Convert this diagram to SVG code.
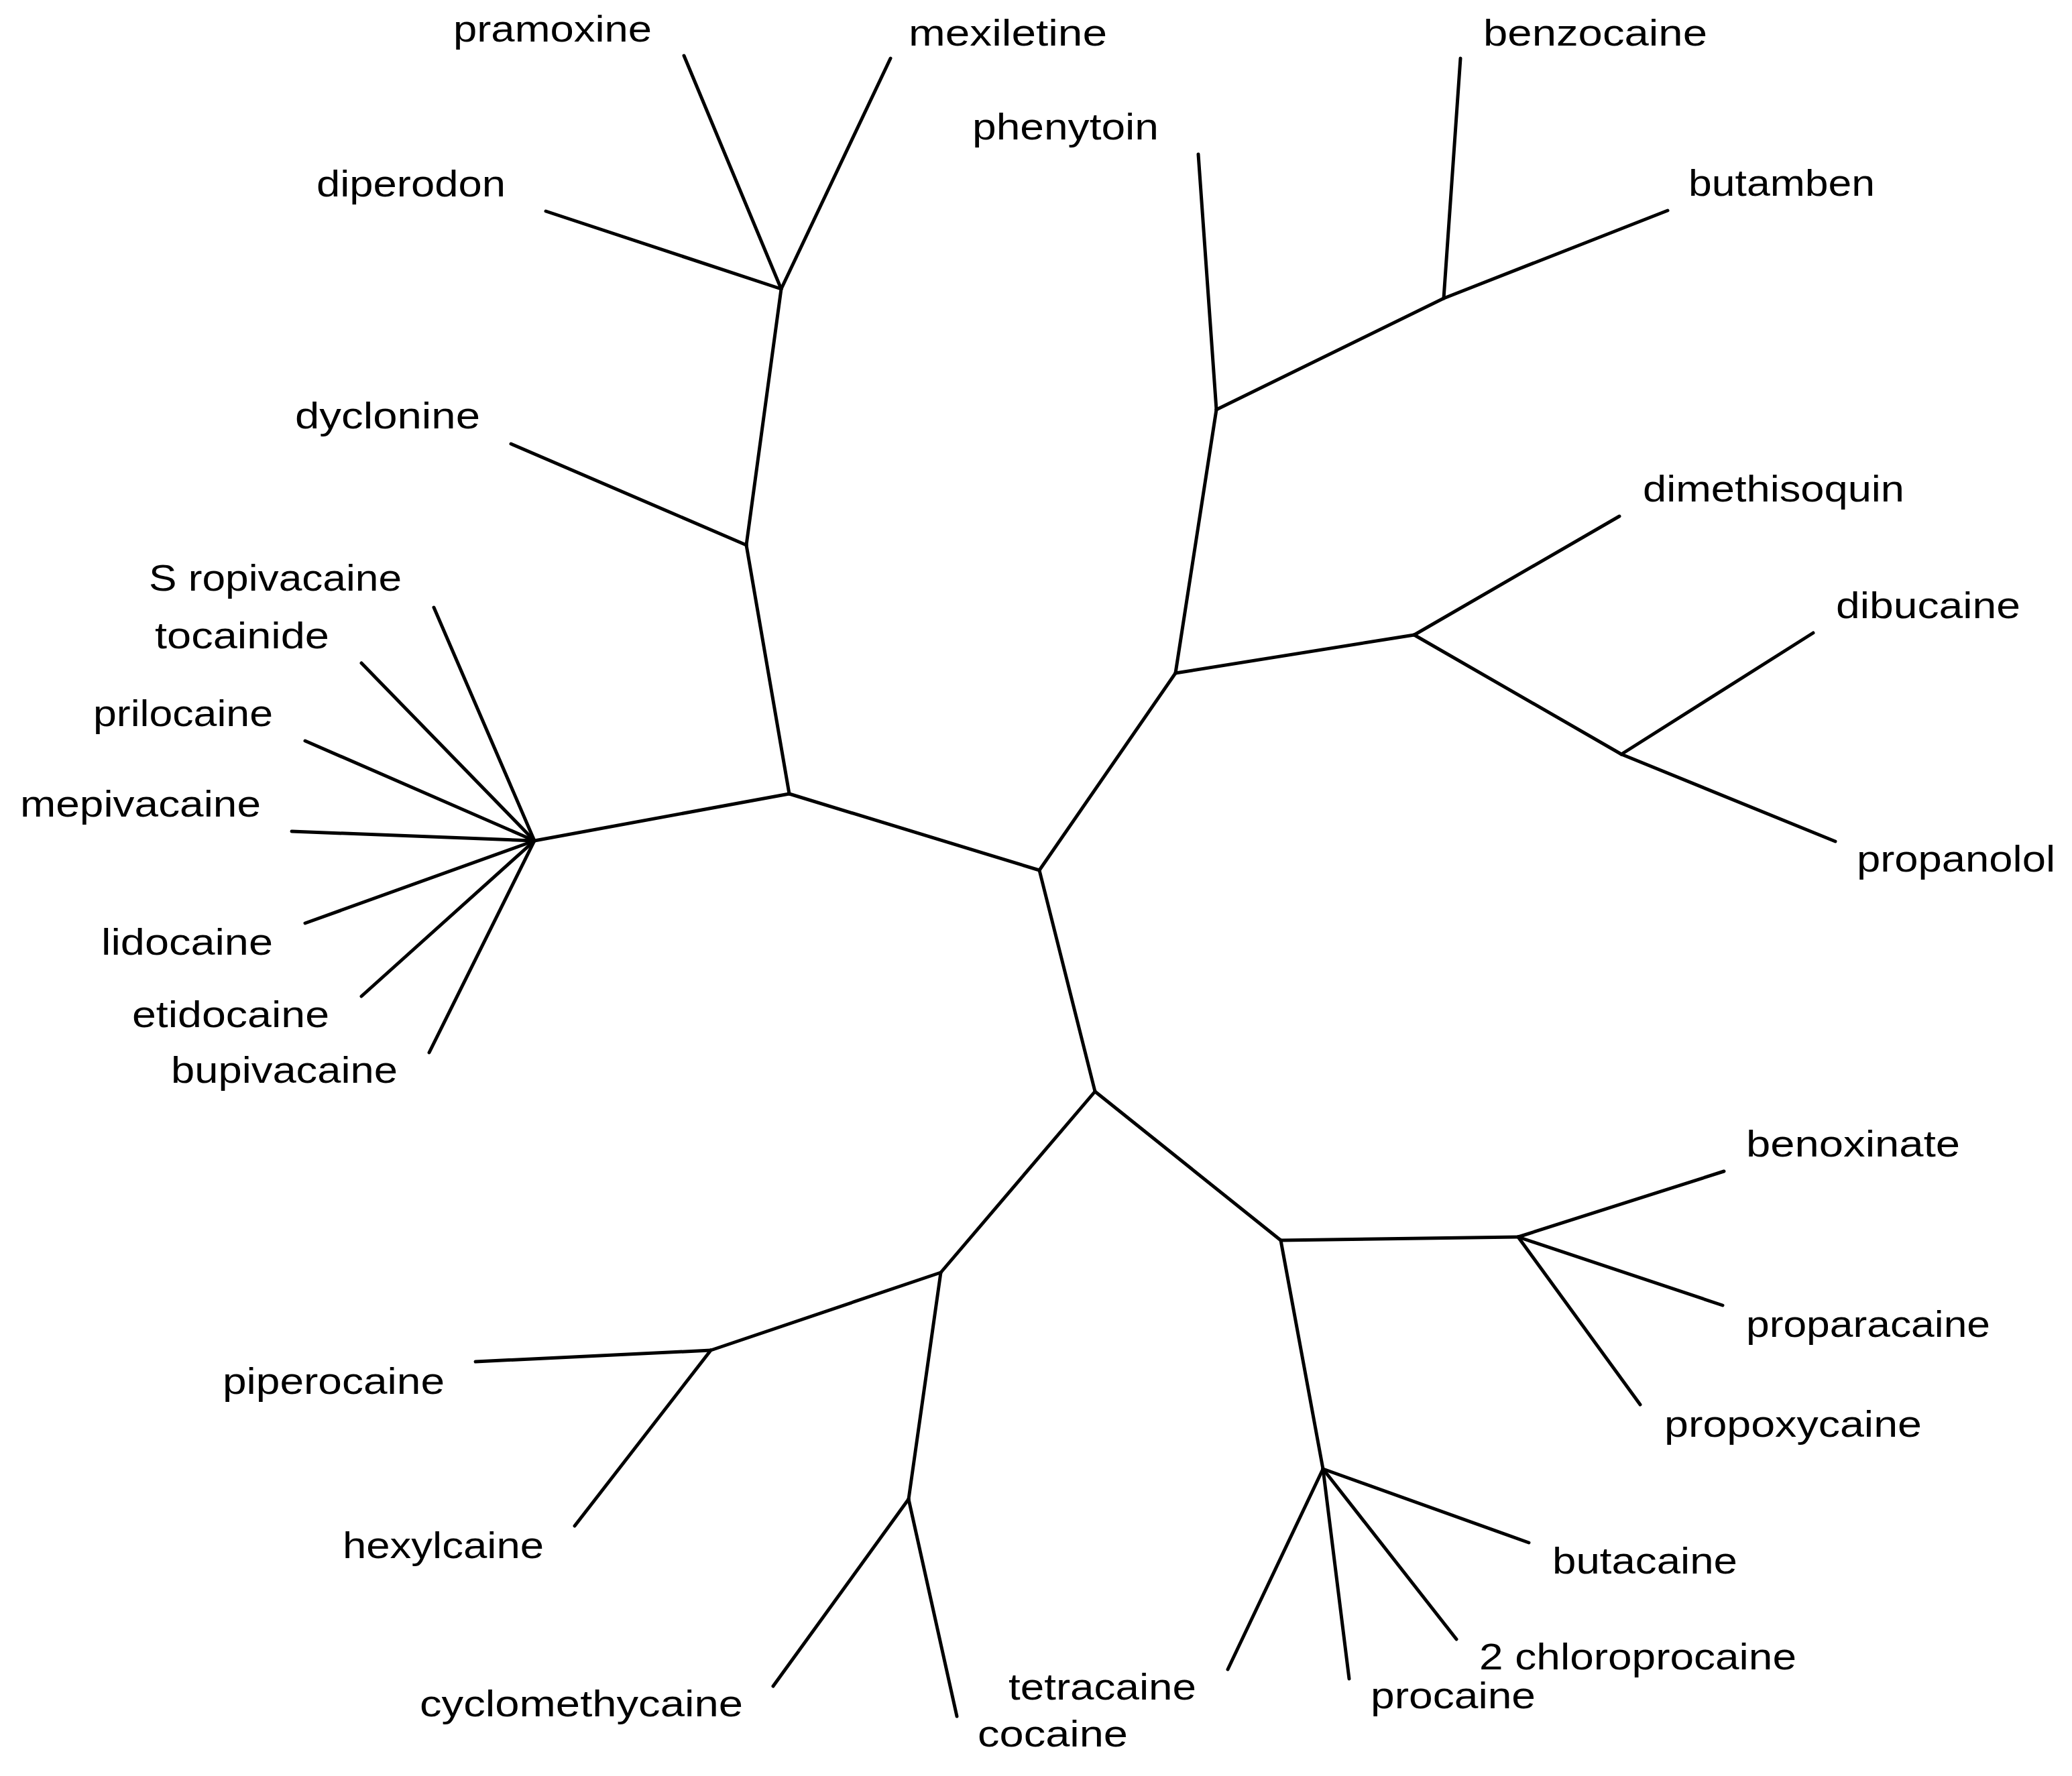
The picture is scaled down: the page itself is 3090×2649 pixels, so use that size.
<svg xmlns="http://www.w3.org/2000/svg" width="3090" height="2649" viewBox="0 0 3090 2649">
<style>
.e{stroke:#000;stroke-width:5;fill:none;stroke-linecap:round}
text{font-family:"Liberation Sans",Arial,sans-serif;font-size:56px;fill:#000}
</style>
<rect width="3090" height="2649" fill="#fff"/>
<g id="connectors">
<line class="e" x1="1550" y1="1298" x2="1177" y2="1184"/>
<line class="e" x1="1550" y1="1298" x2="1753" y2="1004"/>
<line class="e" x1="1550" y1="1298" x2="1633" y2="1628"/>
<line class="e" x1="1177" y1="1184" x2="1113" y2="813"/>
<line class="e" x1="1177" y1="1184" x2="797" y2="1254"/>
<line class="e" x1="1113" y1="813" x2="1165" y2="431"/>
<line class="e" x1="1113" y1="813" x2="762" y2="662"/>
<line class="e" x1="1165" y1="431" x2="1020" y2="83"/>
<line class="e" x1="1165" y1="431" x2="1328" y2="87"/>
<line class="e" x1="1165" y1="431" x2="814" y2="315"/>
<line class="e" x1="797" y1="1254" x2="647" y2="906"/>
<line class="e" x1="797" y1="1254" x2="539" y2="989"/>
<line class="e" x1="797" y1="1254" x2="455" y2="1105"/>
<line class="e" x1="797" y1="1254" x2="435" y2="1240"/>
<line class="e" x1="797" y1="1254" x2="455" y2="1377"/>
<line class="e" x1="797" y1="1254" x2="539" y2="1486"/>
<line class="e" x1="797" y1="1254" x2="640" y2="1570"/>
<line class="e" x1="1753" y1="1004" x2="1814" y2="611"/>
<line class="e" x1="1753" y1="1004" x2="2109" y2="947"/>
<line class="e" x1="1814" y1="611" x2="1787" y2="230"/>
<line class="e" x1="1814" y1="611" x2="2153" y2="445"/>
<line class="e" x1="2153" y1="445" x2="2178" y2="87"/>
<line class="e" x1="2153" y1="445" x2="2487" y2="314"/>
<line class="e" x1="2109" y1="947" x2="2415" y2="770"/>
<line class="e" x1="2109" y1="947" x2="2418" y2="1125"/>
<line class="e" x1="2418" y1="1125" x2="2704" y2="944"/>
<line class="e" x1="2418" y1="1125" x2="2737" y2="1255"/>
<line class="e" x1="1633" y1="1628" x2="1403" y2="1898"/>
<line class="e" x1="1633" y1="1628" x2="1910" y2="1850"/>
<line class="e" x1="1403" y1="1898" x2="1060" y2="2014"/>
<line class="e" x1="1403" y1="1898" x2="1355" y2="2236"/>
<line class="e" x1="1060" y1="2014" x2="709" y2="2031"/>
<line class="e" x1="1060" y1="2014" x2="857" y2="2276"/>
<line class="e" x1="1355" y1="2236" x2="1153" y2="2515"/>
<line class="e" x1="1355" y1="2236" x2="1427" y2="2560"/>
<line class="e" x1="1910" y1="1850" x2="2264" y2="1845"/>
<line class="e" x1="1910" y1="1850" x2="1973" y2="2191"/>
<line class="e" x1="2264" y1="1845" x2="2571" y2="1747"/>
<line class="e" x1="2264" y1="1845" x2="2569" y2="1947"/>
<line class="e" x1="2264" y1="1845" x2="2446" y2="2095"/>
<line class="e" x1="1973" y1="2191" x2="1831" y2="2490"/>
<line class="e" x1="1973" y1="2191" x2="2012" y2="2504"/>
<line class="e" x1="1973" y1="2191" x2="2172" y2="2445"/>
<line class="e" x1="1973" y1="2191" x2="2280" y2="2301"/>
</g>
<g id="pramoxine"><text x="676" y="62" textLength="296" lengthAdjust="spacingAndGlyphs">pramoxine</text></g>
<g id="mexiletine"><text x="1355" y="68" textLength="296" lengthAdjust="spacingAndGlyphs">mexiletine</text></g>
<g id="phenytoin"><text x="1450" y="208" textLength="278" lengthAdjust="spacingAndGlyphs">phenytoin</text></g>
<g id="benzocaine"><text x="2212" y="68" textLength="334" lengthAdjust="spacingAndGlyphs">benzocaine</text></g>
<g id="butamben"><text x="2518" y="292" textLength="278" lengthAdjust="spacingAndGlyphs">butamben</text></g>
<g id="diperodon"><text x="472" y="293" textLength="282" lengthAdjust="spacingAndGlyphs">diperodon</text></g>
<g id="dyclonine"><text x="440" y="639" textLength="276" lengthAdjust="spacingAndGlyphs">dyclonine</text></g>
<g id="dimethisoquin"><text x="2450" y="748" textLength="390" lengthAdjust="spacingAndGlyphs">dimethisoquin</text></g>
<g id="sropivacaine"><text x="222" y="881" textLength="377" lengthAdjust="spacingAndGlyphs">S ropivacaine</text></g>
<g id="tocainide"><text x="231" y="967" textLength="260" lengthAdjust="spacingAndGlyphs">tocainide</text></g>
<g id="prilocaine"><text x="139" y="1083" textLength="268" lengthAdjust="spacingAndGlyphs">prilocaine</text></g>
<g id="mepivacaine"><text x="30" y="1218" textLength="359" lengthAdjust="spacingAndGlyphs">mepivacaine</text></g>
<g id="lidocaine"><text x="151" y="1424" textLength="256" lengthAdjust="spacingAndGlyphs">lidocaine</text></g>
<g id="etidocaine"><text x="197" y="1532" textLength="294" lengthAdjust="spacingAndGlyphs">etidocaine</text></g>
<g id="bupivacaine"><text x="255" y="1615" textLength="338" lengthAdjust="spacingAndGlyphs">bupivacaine</text></g>
<g id="dibucaine"><text x="2738" y="922" textLength="275" lengthAdjust="spacingAndGlyphs">dibucaine</text></g>
<g id="propanolol"><text x="2769" y="1300" textLength="296" lengthAdjust="spacingAndGlyphs">propanolol</text></g>
<g id="benoxinate"><text x="2604" y="1725" textLength="319" lengthAdjust="spacingAndGlyphs">benoxinate</text></g>
<g id="piperocaine"><text x="332" y="2079" textLength="331" lengthAdjust="spacingAndGlyphs">piperocaine</text></g>
<g id="hexylcaine"><text x="511" y="2324" textLength="300" lengthAdjust="spacingAndGlyphs">hexylcaine</text></g>
<g id="cyclomethycaine"><text x="626" y="2560" textLength="482" lengthAdjust="spacingAndGlyphs">cyclomethycaine</text></g>
<g id="tetracaine"><text x="1504" y="2535" textLength="280" lengthAdjust="spacingAndGlyphs">tetracaine</text></g>
<g id="cocaine"><text x="1458" y="2605" textLength="224" lengthAdjust="spacingAndGlyphs">cocaine</text></g>
<g id="procaine"><text x="2044" y="2548" textLength="246" lengthAdjust="spacingAndGlyphs">procaine</text></g>
<g id="proparacaine"><text x="2604" y="1994" textLength="364" lengthAdjust="spacingAndGlyphs">proparacaine</text></g>
<g id="propoxycaine"><text x="2482" y="2143" textLength="384" lengthAdjust="spacingAndGlyphs">propoxycaine</text></g>
<g id="butacaine"><text x="2315" y="2347" textLength="276" lengthAdjust="spacingAndGlyphs">butacaine</text></g>
<g id="chloroprocaine"><text x="2206" y="2490" textLength="473" lengthAdjust="spacingAndGlyphs">2 chloroprocaine</text></g>
</svg>
